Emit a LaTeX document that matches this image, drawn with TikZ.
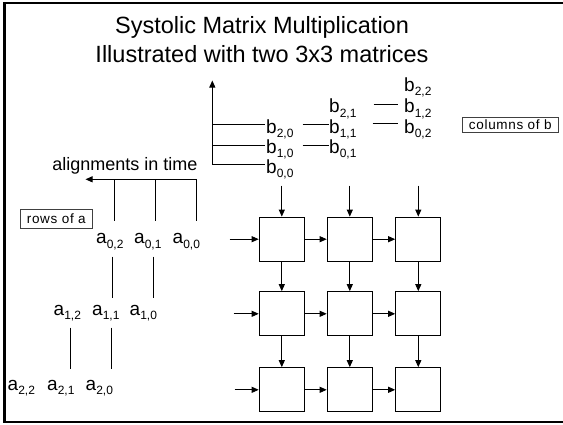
\documentclass[tikz,border=0pt]{standalone}
\usepackage{fontspec}
\setmainfont{Liberation Sans}
\usetikzlibrary{arrows.meta}
\newcommand{\sbl}[2]{#1\raisebox{-4.5pt}{\fontsize{12}{12}\selectfont #2}}
\begin{document}
\begin{tikzpicture}[x=1pt,y=-1pt,
  lbl/.style={font=\fontsize{19}{19}\selectfont, inner sep=0pt, anchor=base west},
  ttl/.style={font=\fontsize{23.5}{23.5}\selectfont, inner sep=0pt, anchor=base},
  cell/.style={draw, line width=1.2pt, minimum width=45pt, minimum height=44pt, inner sep=0pt},
  flow/.style={line width=0.9pt, -{Triangle[length=7pt,width=6pt]}},
  conn/.style={line width=0.9pt},
  tag/.style={draw=black!75, line width=0.8pt, inner sep=0pt, font={\fontsize{13.5}{13.5}\selectfont\addfontfeature{LetterSpace=5}}},
  frame/.style={line cap=rect}
]
\useasboundingbox (0,0) rectangle (563,424);
% slide frame
\draw[frame, line width=1.6pt] (4.5,2.8) -- (565,2.8);
\draw[frame, line width=2.6pt] (4.5,2.8) -- (4.5,422);
\draw[frame, line width=2pt] (4.5,422) -- (565,422);

% title
\node[ttl] (t1) at (262,33.3) {Systolic Matrix Multiplication};
\node[ttl] (t2) at (262,62.8) {Illustrated with two 3x3 matrices};

% b labels
\node[lbl] (b22) at (404,91)    {\sbl{b}{2,2}};
\node[lbl] (b21) at (329,112.5) {\sbl{b}{2,1}};
\node[lbl] (b12) at (404,112.5) {\sbl{b}{1,2}};
\node[lbl] (b20) at (266,133.3) {\sbl{b}{2,0}};
\node[lbl] (b11) at (329,133.3) {\sbl{b}{1,1}};
\node[lbl] (b02) at (404,133.3) {\sbl{b}{0,2}};
\node[lbl] (b10) at (266,153.3) {\sbl{b}{1,0}};
\node[lbl] (b01) at (329,153.3) {\sbl{b}{0,1}};
\node[lbl] (b00) at (266,173.3) {\sbl{b}{0,0}};

% b time axis
\coordinate (axtop) at (212.3,80.5);
\coordinate (ax00) at (212.3,164.4);
\coordinate (ax10) at (212.3,145);
\coordinate (ax20) at (212.3,124.3);
\draw[flow] (ax00) -- (axtop);
\draw[conn] (ax00) -- ([xshift=-1pt]ax00 -| b00.west);
\draw[conn] (ax10) -- ([xshift=-1pt]ax10 -| b10.west);
\draw[conn] (ax20) -- ([xshift=-1pt]ax20 -| b20.west);
\draw[conn] ([xshift=9pt]b20.east |- ax20) -- (ax20 -| b11.west);
\draw[conn] ([xshift=9pt]b10.east |- ax10) -- (ax10 -| b01.west);
\draw[conn] ([shift={(17pt,8.2pt)}]b21.base east) -- ([shift={(-6pt,8.2pt)}]b12.base west);
\draw[conn] ([shift={(16pt,10pt)}]b11.base east) -- ([shift={(-6pt,10pt)}]b02.base west);

\node[tag, minimum width=96pt, minimum height=15pt] (colb) at (510.3,124.8) {columns of b};

% a side
\node[font=\fontsize{18}{18}\selectfont, inner sep=0pt, anchor=base] (alig) at (125,170.5) {alignments in time};
\node[tag, minimum width=72.7pt, minimum height=19pt] (rowa) at (56.3,218.8) {rows of a};

\node[lbl] (a02) at (96,243.5)  {\sbl{a}{0,2}};
\node[lbl] (a01) at (134,243.5) {\sbl{a}{0,1}};
\node[lbl] (a00) at (172.5,243.5) {\sbl{a}{0,0}};
\node[lbl] (a12) at (53.5,315)  {\sbl{a}{1,2}};
\node[lbl] (a11) at (92,315)    {\sbl{a}{1,1}};
\node[lbl] (a10) at (129.5,315) {\sbl{a}{1,0}};
\node[lbl] (a22) at (7.5,390)   {\sbl{a}{2,2}};
\node[lbl] (a21) at (47,390)    {\sbl{a}{2,1}};
\node[lbl] (a20) at (85.5,390)  {\sbl{a}{2,0}};

\coordinate (tl0) at (196.7,179.3);
\coordinate (tl1) at (155.3,179.3);
\coordinate (tl2) at (114.3,179.3);
\coordinate (ttip) at (85.5,179.3);
\draw[flow] (tl0) -- (ttip);
\draw[conn] (tl0) -- (196.7,221);
\draw[conn] (tl1) -- (155.3,221);
\draw[conn] (tl2) -- (114.3,221);

\coordinate (v1a) at (112,256.7);  \coordinate (v1b) at (112,297.7);
\coordinate (v2a) at (153,256.7);  \coordinate (v2b) at (153,297.7);
\coordinate (v3a) at (70.3,327.7); \coordinate (v3b) at (70.3,369.3);
\coordinate (v4a) at (111.3,327.7);\coordinate (v4b) at (111.3,369.3);
\draw[conn] (v1a) -- (v1b);
\draw[conn] (v2a) -- (v2b);
\draw[conn] (v3a) -- (v3b);
\draw[conn] (v4a) -- (v4b);

% processor grid
\foreach \r/\y in {1/239.2,2/313.8,3/389.8}{
  \foreach \c/\x in {1/281.8,2/349.8,3/418.3}{
    \node[cell] (c\r\c) at (\x,\y) {};
  }
}
\foreach \c in {1,2,3}{
  \draw[flow] ([yshift=31pt]c1\c.north) -- (c1\c.north);
  \draw[flow] (c1\c.south) -- (c2\c.north);
  \draw[flow] (c2\c.south) -- (c3\c.north);
}
\draw[flow] ([xshift=-29pt]c11.west) -- (c11.west);
\draw[flow] ([xshift=-25pt]c21.west) -- (c21.west);
\draw[flow] ([xshift=-24pt]c31.west) -- (c31.west);
\foreach \r in {1,2,3}{
  \draw[flow] (c\r1.east) -- (c\r2.west);
  \draw[flow] (c\r2.east) -- (c\r3.west);
}
\end{tikzpicture}
\end{document}
